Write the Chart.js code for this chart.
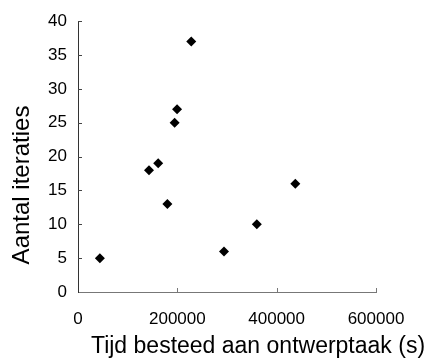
<!DOCTYPE html>
<html>
<head>
<meta charset="utf-8">
<script src="https://cdn.jsdelivr.net/npm/chart.js@4.4.0/dist/chart.umd.min.js"></script>
<style>
    html, body { margin: 0; padding: 0; background: #fff; }
    canvas { display: block; }
</style>
</head>
<body>
<canvas id="chartCanvas" width="427" height="362"></canvas>
<script>
// data
const tijdSeconden = [44000, 143000, 161500, 180000, 194500, 199500, 228000, 294000, 360000, 437500];
const aantalIteraties = [5, 18, 19, 13, 25, 27, 37, 6, 10, 16];
const xTicks = [0, 200000, 400000, 600000];
const yTicks = [0, 5, 10, 15, 20, 25, 30, 35, 40];

const xTitle = "Tijd besteed aan ontwerptaak (s)";
const yTitle = "Aantal iteraties";

const FONT = "'Liberation Sans', Arial, sans-serif";

// small inward tick marks + axis titles (Excel look)
const excelAxes = {
    id: "excelAxes",
    afterDraw(chart) {
        const ctx = chart.ctx;
        const xs = chart.scales.x;
        const ys = chart.scales.y;
        const area = chart.chartArea;

        ctx.save();
        ctx.lineWidth = 1;
        ctx.strokeStyle = "#777";
        xTicks.forEach(v => {
            if (v === 0) return;
            const px = Math.round(xs.getPixelForValue(v)) + 0.5;
            ctx.beginPath();
            ctx.moveTo(px, area.bottom);
            ctx.lineTo(px, area.bottom - 4);
            ctx.stroke();
        });
        ctx.strokeStyle = "#444";
        yTicks.forEach(v => {
            if (v === 0) return;
            const py = Math.round(ys.getPixelForValue(v)) + 0.5;
            ctx.beginPath();
            ctx.moveTo(area.left, py);
            ctx.lineTo(area.left + 4, py);
            ctx.stroke();
        });

        // axis titles
        ctx.fillStyle = "#000";
        ctx.textAlign = "center";
        ctx.textBaseline = "middle";
        ctx.font = "23px " + FONT;
        ctx.fillText(xTitle, 258, 347);

        ctx.translate(22, 185);
        ctx.rotate(-Math.PI / 2);
        ctx.font = "24px " + FONT;
        ctx.fillText(yTitle, 0, 0);
        ctx.restore();
    }
};

const ctx = document.getElementById("chartCanvas").getContext("2d");

new Chart(ctx, {
    type: "scatter",
    data: {
        datasets: [{
            data: tijdSeconden.map((t, i) => ({ x: t, y: aantalIteraties[i] })),
            pointStyle: "rectRot",
            pointRadius: 5,
            pointBorderWidth: 0,
            backgroundColor: "#000",
            borderColor: "#000"
        }]
    },
    options: {
        responsive: false,
        animation: false,
        layout: { padding: { top: 15, right: 51, bottom: 0, left: 0 } },
        plugins: {
            legend: { display: false },
            tooltip: { enabled: false }
        },
        scales: {
            x: {
                type: "linear",
                min: 0,
                max: 600000,
                afterBuildTicks: s => { s.ticks = xTicks.map(v => ({ value: v })); },
                afterFit: s => { s.height = 70; },
                ticks: {
                    color: "#000",
                    padding: 17,
                    maxRotation: 0,
                    font: { family: FONT, size: 17 },
                    callback: v => String(v)
                },
                grid: { display: false, drawTicks: false },
                border: { display: true, color: "#777", width: 1 }
            },
            y: {
                min: 0,
                max: 40,
                afterBuildTicks: s => { s.ticks = yTicks.map(v => ({ value: v })); },
                afterFit: s => { s.width = 78; },
                ticks: {
                    color: "#000",
                    padding: 11,
                    font: { family: FONT, size: 17 }
                },
                grid: { display: false, drawTicks: false },
                border: { display: true, color: "#333", width: 1 }
            }
        }
    },
    plugins: [excelAxes]
});
</script>
</body>
</html>
